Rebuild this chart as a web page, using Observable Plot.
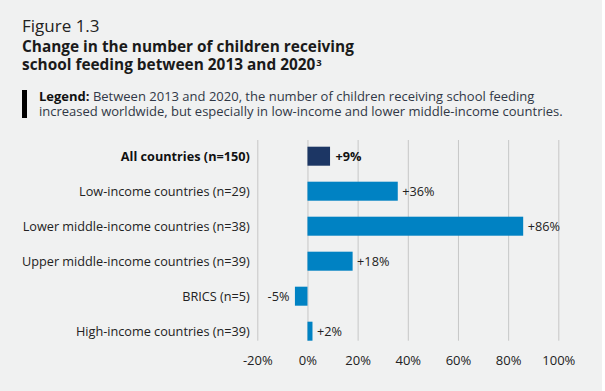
<!DOCTYPE html>
<html>
<head>
<meta charset="utf-8">
<script src="https://cdn.jsdelivr.net/npm/d3@7"></script>
<script src="https://cdn.jsdelivr.net/npm/@observablehq/plot@0.6"></script>
<style>
  html, body { margin: 0; padding: 0; background: #ffffff; }
  #wrap { position: relative; width: 602px; height: 391px; background: #f0f1f1; font-family: "Open Sans", sans-serif; overflow: hidden; }
  .line { position: absolute; left: 22px; white-space: nowrap; margin: 0; }
  #fig { top: 15px; font-size: 17px; color: #222; line-height: 22px; }
  .title { font-size: 15.4px; font-weight: 700; color: #1a1a1a; line-height: 17.5px; height: 17.5px; }
  #t1 { top: 38px; }
  #t2 { top: 55.5px; }
  .title .sup { font-size: 9.5px; position: relative; top: -4px; margin-left: 1px; }
  #legbar { position: absolute; left: 22px; top: 90px; width: 5px; height: 28px; background: #000; }
  .leg { left: 39px; font-size: 13px; color: #303846; line-height: 15px; height: 15px; }
  .leg b { color: #111; }
  #l1 { top: 89px; }
  #l2 { top: 104px; }
  #chart { position: absolute; left: 0; top: 130px; }
</style>
</head>
<body>
<div id="wrap">
  <div id="fig" class="line">Figure 1.3</div>
  <div id="t1" class="line title">Change in the number of children receiving</div>
  <div id="t2" class="line title">school feeding between 2013 and 2020<span class="sup">3</span></div>
  <div id="legbar"></div>
  <div id="l1" class="line leg"><b>Legend:</b> Between 2013 and 2020, the number of children receiving school feeding</div>
  <div id="l2" class="line leg">increased worldwide, but especially in low-income and lower middle-income countries.</div>
  <div id="chart"></div>
</div>
<script>
const categories = [
  "All countries (n=150)",
  "Low-income countries (n=29)",
  "Lower middle-income countries (n=38)",
  "Upper middle-income countries (n=39)",
  "BRICS (n=5)",
  "High-income countries (n=39)"
];
const values = [9, 36, 86, 18, -5, 2];
const labels = ["+9%", "+36%", "+86%", "+18%", "-5%", "+2%"];
const highlight = [true, false, false, false, false, false];
const xTicks = [-20, 0, 20, 40, 60, 80, 100];

const data = categories.map((c, i) => ({name: c, value: values[i], label: labels[i], bold: highlight[i]}));
const boldRows = data.filter(d => d.bold);
const plainRows = data.filter(d => !d.bold);
const plainPos = plainRows.filter(d => d.value >= 0);
const plainNeg = plainRows.filter(d => d.value < 0);

const chart = Plot.plot({
  width: 602,
  height: 261,
  marginLeft: 257.3,
  marginRight: 43.7,
  marginTop: 10,
  marginBottom: 50.3,
  style: {fontFamily: "Open Sans, sans-serif", background: "transparent", color: "#222"},
  x: {domain: [-20, 100], ticks: xTicks, tickFormat: d => d + "%"},
  y: {domain: categories, paddingInner: 0.457, paddingOuter: 0.0957, align: 1, round: false, axis: null},
  marks: [
    Plot.gridX(xTicks, {stroke: "#c6c7c7", strokeOpacity: 1, strokeWidth: 1}),
    Plot.axisX({ticks: xTicks, tickSize: 0, tickPadding: 14.5, fontSize: 13, tickFormat: d => d + "%", fill: "#222", label: null}),
    Plot.barX(data, {x: "value", y: "name", fill: d => d.bold ? "#1c3664" : "#0082c3"}),
    Plot.text(plainRows, {y: "name", frameAnchor: "left", text: "name", textAnchor: "end", dx: -8, fontSize: 12.7, fill: "#222"}),
    Plot.text(boldRows, {y: "name", frameAnchor: "left", text: "name", textAnchor: "end", dx: -8, fontSize: 12.7, fontWeight: "bold", fill: "#111"}),
    Plot.text(plainPos, {x: "value", y: "name", text: "label", textAnchor: "start", dx: 4, fontSize: 12.7, fill: "#222"}),
    Plot.text(plainNeg, {x: "value", y: "name", text: "label", textAnchor: "end", dx: -6, fontSize: 12.7, fill: "#222"}),
    Plot.text(boldRows, {x: "value", y: "name", text: "label", textAnchor: "start", dx: 5, fontSize: 12.7, fontWeight: "bold", fill: "#111"})
  ]
});
document.getElementById("chart").appendChild(chart);
</script>
</body>
</html>
